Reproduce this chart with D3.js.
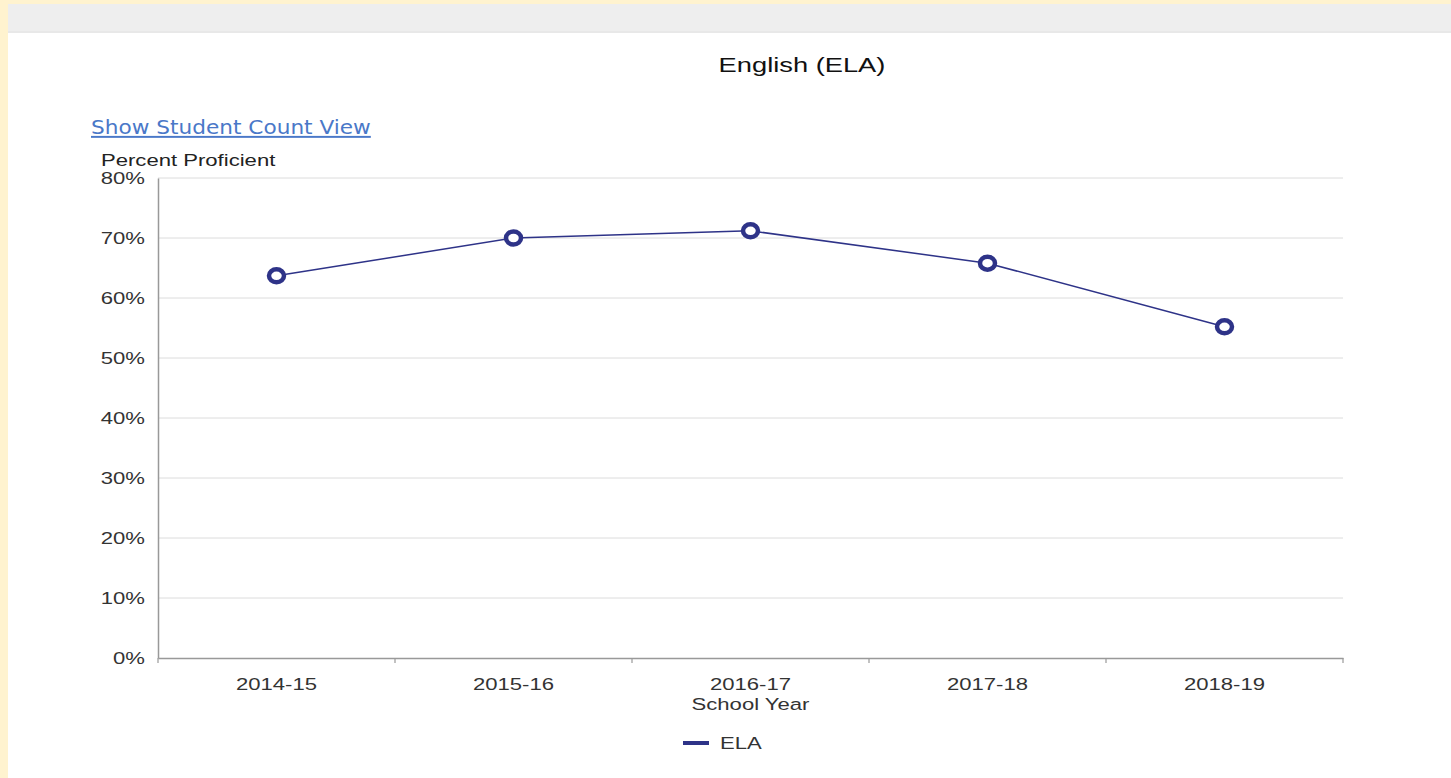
<!DOCTYPE html>
<html><head><meta charset="utf-8">
<script src="https://cdn.jsdelivr.net/npm/d3@7"></script>
<style>
html,body{margin:0;padding:0;background:#fff3cf;}
svg{display:block;}
</style></head><body>
<svg id="c" width="1451" height="778"></svg>
<script>
const categories = ["2014-15","2015-16","2016-17","2017-18","2018-19"];
const elaValues = [63.7, 70.0, 71.2, 65.8, 55.2];
const yTicks = [0,10,20,30,40,50,60,70,80];
const seriesName = "ELA";

const svg = d3.select("#c");
const W = 1451, H = 778;
const font = "'Liberation Sans', Arial, Helvetica, sans-serif";
const navy = "#2e3388";
const SX = 1.3; // horizontal text stretch

// panel background
svg.append("rect").attr("x",8).attr("y",4).attr("width",W-8).attr("height",H-4).attr("fill","#ffffff");
svg.append("rect").attr("x",8).attr("y",4).attr("width",W-8).attr("height",29).attr("fill","#eeeeee");
svg.append("rect").attr("x",8).attr("y",31).attr("width",W-8).attr("height",2).attr("fill","#e8e8e8");

const m = {left:158, right:1343, top:178, bottom:658};
const x = d3.scaleBand().domain(categories).range([m.left, m.right]);
const y = d3.scaleLinear().domain([0,80]).range([m.bottom, m.top]);

function label(tx, ty, txt, opts) {
  const o = Object.assign({size:17, anchor:"start", fill:"#333", sx:SX, family:font}, opts||{});
  return svg.append("text")
    .attr("transform", `translate(${tx},${ty}) scale(${o.sx},1)`)
    .attr("text-anchor", o.anchor).attr("font-family", o.family)
    .attr("font-size", o.size).attr("fill", o.fill).text(txt);
}

// title
label(802, 72, "English (ELA)", {size:21, anchor:"middle", fill:"#111"});

// link
label(91, 134, "Show Student Count View", {size:19.5, family:"'DejaVu Sans', Verdana, sans-serif", fill:"#4a78c8", sx:1.11})
  .attr("text-decoration","underline");

// y axis title
label(101, 166, "Percent Proficient", {fill:"#222"});

// grid
svg.append("g").selectAll("line").data(yTicks.filter(d=>d>0)).join("line")
  .attr("x1",m.left).attr("x2",m.right).attr("y1",d=>y(d)).attr("y2",d=>y(d))
  .attr("stroke","#dcdcdc").attr("stroke-width",1);

// y axis
const ya = svg.append("g").attr("transform",`translate(${m.left},0)`)
  .call(d3.axisLeft(y).tickValues(yTicks).tickFormat(d=>d+"%").tickSize(0).tickPadding(0));
ya.select(".domain").attr("stroke","#999").attr("stroke-width",1.5);
ya.selectAll("text").attr("font-family",font).attr("font-size",17).attr("fill","#333")
  .attr("x",-13).attr("transform",`scale(${SX},1) translate(0,0)`)
  .attr("x", -13/SX);

// x axis
const xa = svg.append("g").attr("transform",`translate(0,${m.bottom})`)
  .call(d3.axisBottom(x).tickSize(0).tickPadding(20));
xa.select(".domain").attr("stroke","#999").attr("stroke-width",1.5);
xa.selectAll("text").attr("font-family",font).attr("font-size",17).attr("fill","#333")
  .attr("transform",`scale(${SX},1)`);
// boundary ticks
const bounds = categories.map(c=>x(c)).concat([m.right]);
svg.append("g").selectAll("line").data(bounds).join("line")
  .attr("x1",d=>d).attr("x2",d=>d).attr("y1",m.bottom).attr("y2",m.bottom+5)
  .attr("stroke","#999").attr("stroke-width",1.2);

// x axis title
label(x(categories[2])+x.bandwidth()/2, 710, "School Year", {anchor:"middle"});

// line
const cx = d => x(d)+x.bandwidth()/2;
svg.append("path").datum(categories.map((c,i)=>[cx(c), y(elaValues[i])]))
  .attr("d", d3.line()).attr("fill","none").attr("stroke",navy).attr("stroke-width",1.5);
svg.append("g").selectAll("ellipse").data(categories).join("ellipse")
  .attr("cx",d=>cx(d)).attr("cy",(d,i)=>y(elaValues[i])).attr("rx",7.5).attr("ry",6.5)
  .attr("fill","#fff").attr("stroke",navy).attr("stroke-width",4.5);

// legend
svg.append("line").attr("x1",683).attr("x2",709).attr("y1",743).attr("y2",743)
  .attr("stroke",navy).attr("stroke-width",4);
label(720, 749, seriesName);
</script>
</body></html>
